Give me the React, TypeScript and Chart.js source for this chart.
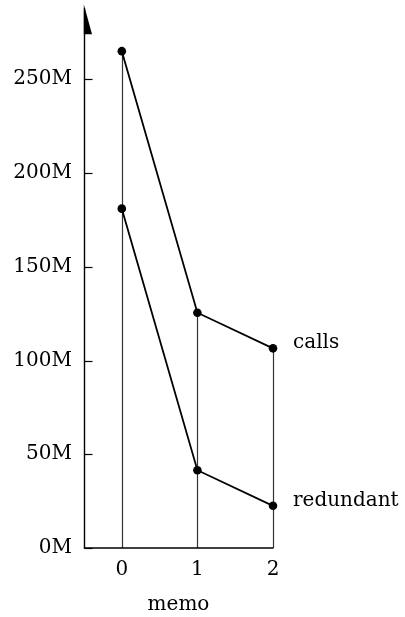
import React, { useEffect, useRef } from "react";
import { Chart, registerables } from "chart.js";

Chart.register(...registerables);

const memoValues = [0, 1, 2];
const callsValues = [265e6, 125.5e6, 106.5e6];
const redundantValues = [181e6, 41.5e6, 22.5e6];
const seriesNames = ["calls", "redundant"];
const yTickValues = [0, 50e6, 100e6, 150e6, 200e6, 250e6];
const xTickValues = [0, 1, 2];
const xTitle = "memo";

const FONT = "'DejaVu Serif', serif";

const decorPlugin = {
  id: "decor",
  beforeDatasetsDraw(chart: any) {
    const { ctx, chartArea, scales } = chart;
    const x = scales.x;
    const y = scales.y;
    ctx.save();
    // drop lines
    ctx.strokeStyle = "#333";
    ctx.lineWidth = 1.2;
    memoValues.forEach((m, i) => {
      const top = Math.max(callsValues[i], redundantValues[i]);
      const px = Math.round(x.getPixelForValue(m)) + 0.5;
      ctx.beginPath();
      ctx.moveTo(px, y.getPixelForValue(top));
      ctx.lineTo(px, y.getPixelForValue(0));
      ctx.stroke();
    });
    // axes
    ctx.strokeStyle = "#000";
    ctx.lineWidth = 1.4;
    const x0 = chartArea.left + 0.5;
    const y0 = y.getPixelForValue(0);
    ctx.beginPath();
    ctx.moveTo(x0, y0);
    ctx.lineTo(x0, chartArea.top + 4);
    ctx.stroke();
    ctx.beginPath();
    ctx.moveTo(x0 - 0.7, y0);
    ctx.lineTo(x.getPixelForValue(xTickValues[xTickValues.length - 1]) + 0.5, y0);
    ctx.stroke();
    // arrow head
    ctx.fillStyle = "#000";
    ctx.beginPath();
    ctx.moveTo(x0 - 0.7, chartArea.top);
    ctx.lineTo(x0 + 7.5, chartArea.top + 30);
    ctx.lineTo(x0 - 0.7, chartArea.top + 30);
    ctx.closePath();
    ctx.fill();
    // inward y ticks
    ctx.lineWidth = 1.2;
    yTickValues.forEach((v) => {
      const py = Math.round(y.getPixelForValue(v)) + 0.5;
      ctx.beginPath();
      ctx.moveTo(x0, py);
      ctx.lineTo(x0 + 8, py);
      ctx.stroke();
    });
    ctx.restore();
  },
  afterDatasetsDraw(chart: any) {
    const { ctx } = chart;
    ctx.save();
    ctx.fillStyle = "#000";
    ctx.font = `20px ${FONT}`;
    ctx.textAlign = "left";
    ctx.textBaseline = "alphabetic";
    chart.data.datasets.forEach((ds: any, i: number) => {
      const meta = chart.getDatasetMeta(i);
      const last = meta.data[meta.data.length - 1];
      ctx.fillText(seriesNames[i], last.x + 20, last.y);
    });
    ctx.restore();
  },
};

export default function App() {
  const ref = useRef<HTMLCanvasElement | null>(null);

  useEffect(() => {
    if (!ref.current) return;
    const mk = (vals: number[]) => memoValues.map((m, i) => ({ x: m, y: vals[i] }));
    const common = {
      borderColor: "#000",
      backgroundColor: "#000",
      borderWidth: 1.8,
      pointRadius: 4.3,
      pointBackgroundColor: "#000",
      pointBorderWidth: 0,
      tension: 0,
      clip: false as any,
    };
    const chart = new Chart(ref.current, {
      type: "line",
      data: {
        datasets: [
          { label: seriesNames[0], data: mk(callsValues), ...common },
          { label: seriesNames[1], data: mk(redundantValues), ...common },
        ],
      },
      options: {
        responsive: false,
        animation: false,
        devicePixelRatio: 1,
        layout: { padding: { left: 0, right: 132, top: 2, bottom: 0 } },
        plugins: {
          legend: { display: false },
          tooltip: { enabled: false },
        },
        scales: {
          x: {
            type: "linear",
            min: -0.5,
            max: 2,
            grid: { display: false, drawTicks: false },
            border: { display: false },
            afterBuildTicks: (s: any) => {
              s.ticks = xTickValues.map((v) => ({ value: v }));
            },
            afterFit: (s: any) => {
              s.height = 69;
              s.paddingLeft = 0;
              s.paddingRight = 0;
              s.paddingTop = 0;
              s.paddingBottom = 0;
            },
            ticks: {
              color: "#000",
              font: { family: FONT, size: 20 },
              padding: 10,
              maxRotation: 0,
              callback: (v: any) => String(v),
            },
            title: {
              display: true,
              text: xTitle,
              color: "#000",
              font: { family: FONT, size: 20 },
              padding: { top: 0, bottom: 0 },
            },
          },
          y: {
            type: "linear",
            min: 0,
            max: 290e6,
            grid: { display: false, drawTicks: false },
            border: { display: false },
            afterBuildTicks: (s: any) => {
              s.ticks = yTickValues.map((v) => ({ value: v }));
            },
            afterFit: (s: any) => {
              s.width = 84;
              s.paddingLeft = 0;
              s.paddingRight = 0;
              s.paddingTop = 0;
              s.paddingBottom = 0;
            },
            ticks: {
              color: "#000",
              font: { family: FONT, size: 20 },
              padding: 12,
              callback: (v: any) => `${Math.round(Number(v) / 1e6)}M`,
            },
          },
        },
      },
      plugins: [decorPlugin],
    });
    return () => chart.destroy();
  }, []);

  return (
    <div style={{ position: "absolute", left: 0, top: 0, width: 405, height: 617, background: "#fff" }}>
      <canvas ref={ref} width={405} height={617} style={{ display: "block" }} />
    </div>
  );
}
